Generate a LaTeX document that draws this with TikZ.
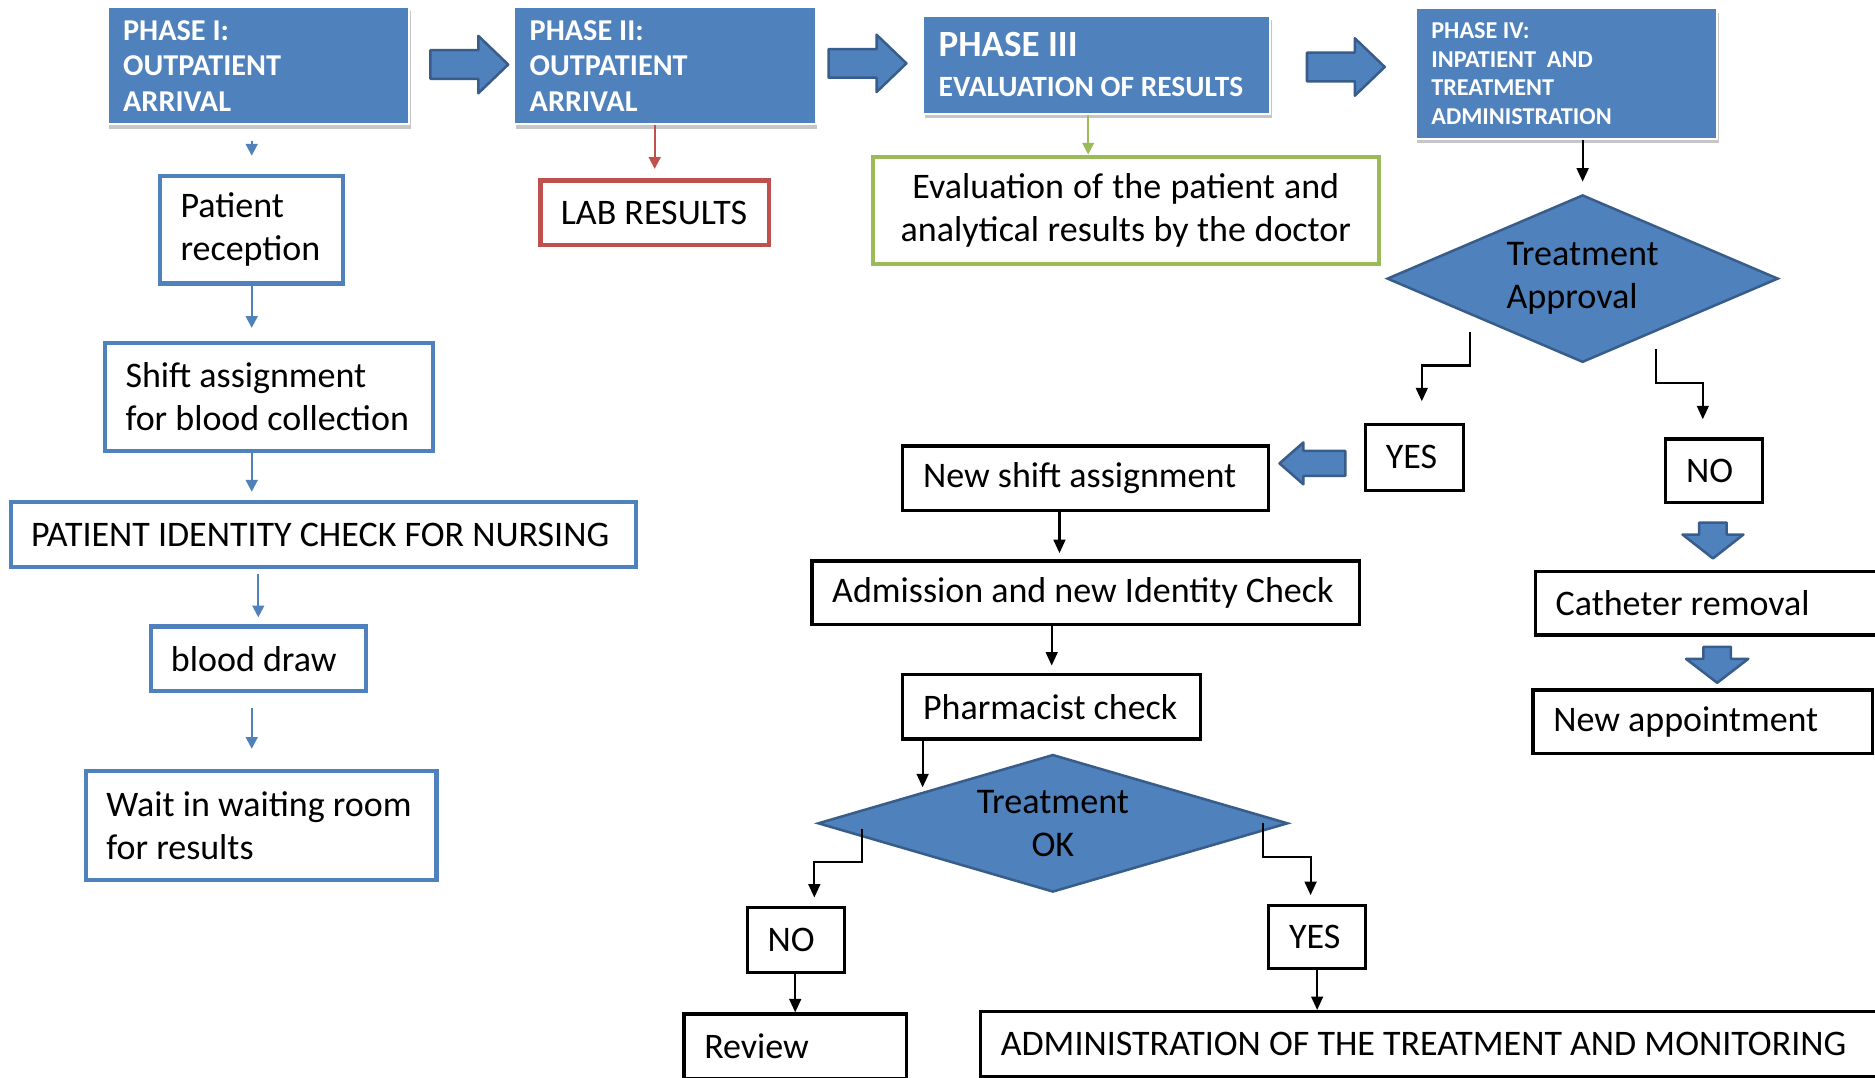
\documentclass[tikz,border=0pt]{standalone}
\usepackage{fontspec}
\setmainfont{Carlito}
\usetikzlibrary{arrows.meta,calc,shapes.geometric,shadows}
\definecolor{phblue}{RGB}{79,129,189}
\definecolor{phdark}{RGB}{56,93,138}
\definecolor{labred}{RGB}{192,80,77}
\definecolor{evgreen}{RGB}{155,187,89}
\newcommand{\bodyfont}{\fontsize{21.4}{25.6}\selectfont}
\tikzset{
  every node/.append style={execute at begin node={\spaceskip=0pt\xspaceskip=0pt\relax}},
  phase/.style={fill=phblue,draw=white,line width=1.2pt,text=white,align=left,
    inner sep=0pt,font=\fontsize{18}{21.2}\selectfont\bfseries,
    drop shadow={shadow xshift=1pt,shadow yshift=-2.5pt,opacity=.45}},
  blk/.style={draw=black,line width=2pt,align=left,inner sep=0pt,font=\bodyfont},
  bbox/.style={draw=phblue,line width=2.5pt,align=left,inner sep=0pt,font=\bodyfont},
  dec/.style={diamond,fill=phblue,draw=phdark,line width=1.5pt,inner sep=0pt,
    font=\fontsize{21.5}{25.6}\selectfont},
  barrow/.style={fill=phblue,draw=phdark,line width=1.5pt,line join=round},
}

\begin{document}
\begin{tikzpicture}[x=0.025cm,y=-0.025cm,
  bar/.style={phblue,line width=1.3pt,-{Triangle[length=7pt,width=7pt]}},
  rar/.style={labred,line width=1.3pt,-{Triangle[length=7pt,width=7pt]}},
  gar/.style={evgreen,line width=1.3pt,-{Triangle[length=7pt,width=7pt]}},
  kar/.style={black,line width=1.3pt,-{Triangle[length=8pt,width=7pt]}}]
  \useasboundingbox (0,0) rectangle (1568,901);
  \clip (0,0) rectangle (1568,901);
  % phase headers
  \node[phase,minimum width=6.3cm,minimum height=2.45cm,text width=5.65cm] (ph1) at (216,55)
    {PHASE I:\\OUTPATIENT\\ARRIVAL};
  \node[phase,minimum width=6.3cm,minimum height=2.45cm,text width=5.65cm] (ph2) at (556,55)
    {PHASE II:\\OUTPATIENT\\ARRIVAL};
  \node[phase,minimum width=7.25cm,minimum height=2.05cm,text width=6.6cm,
    font=\fontsize{22}{24}\selectfont\bfseries] (ph3) at (917,54)
    {PHASE III\\{\fontsize{17.5}{24}\selectfont EVALUATION OF RESULTS}};
  \node[phase,minimum width=6.3cm,minimum height=2.725cm,text width=5.65cm,
    font=\fontsize{14.4}{16.9}\selectfont\bfseries] (ph4) at (1310,61.5)
    {PHASE IV:\\INPATIENT \ AND\\TREATMENT\\ADMINISTRATION};
  % block arrows between phases
  \filldraw[barrow] (360,42) -- (400,42) -- (400,30) -- (425,54) -- (400,78) -- (400,66) -- (360,66) -- cycle;
  \filldraw[barrow] (693,41) -- (733,41) -- (733,29) -- (758,53) -- (733,77) -- (733,65) -- (693,65) -- cycle;
  \filldraw[barrow] (1093,44) -- (1133,44) -- (1133,32) -- (1158,56) -- (1133,80) -- (1133,68) -- (1093,68) -- cycle;
  % phase I column
  \node[bbox,minimum width=3.825cm,minimum height=2.25cm,text width=2.975cm] (rec) at (210.5,192) {Patient\\reception};
  \node[bbox,minimum width=6.85cm,minimum height=2.25cm,text width=6.0cm] (shf) at (225,332) {Shift assignment\\for blood collection};
  \node[bbox,minimum width=13.075cm,minimum height=1.35cm,text width=12.225cm] (idc) at (270.5,447) {PATIENT IDENTITY CHECK FOR NURSING};
  \node[bbox,minimum width=4.5cm,minimum height=1.35cm,text width=3.65cm] (bld) at (216,551) {blood draw};
  \node[bbox,minimum width=7.325cm,minimum height=2.275cm,text width=6.475cm] (wai) at (218.5,690.5) {Wait in waiting room\\for results};
  % phase II and III
  \node[blk,draw=labred,line width=2.5pt,minimum width=4.775cm,minimum height=1.35cm,text width=3.925cm] (lab) at (547.5,178) {LAB RESULTS};
  \node[blk,draw=evgreen,line width=2.5pt,align=center,minimum width=10.575cm,minimum height=2.25cm,text width=9.725cm] (ev) at (941.5,176)
    {Evaluation of the patient and\\analytical results by the doctor};
  % phase IV
  \node[dec,shape aspect=2.34,minimum width=8.175cm,minimum height=3.5cm,align=left] (apr) at (1323.5,233) {Treatment\\Approval};
  \node[blk,minimum width=2.05cm,minimum height=1.375cm,text width=1.2cm] (yes1) at (1183,382.5) {YES};
  \node[blk,minimum width=2.025cm,minimum height=1.325cm,text width=1.175cm] (no1) at (1433.5,393.5) {NO};
  \filldraw[barrow] (1125,377) -- (1090,377) -- (1090,370) -- (1070,387.5) -- (1090,405) -- (1090,398) -- (1125,398) -- cycle;
  \node[blk,minimum width=7.65cm,minimum height=1.35cm,text width=6.8cm] (nsa) at (908,400) {New shift assignment};
  \node[blk,minimum width=11.45cm,minimum height=1.325cm,text width=10.6cm] (adm) at (908,495.5) {Admission and new Identity Check};
  \node[blk,minimum width=6.225cm,minimum height=1.35cm,text width=5.375cm] (phc) at (879.5,591) {Pharmacist check};
  \node[dec,shape aspect=3.42,minimum width=9.825cm,minimum height=2.875cm,align=center] (tok) at (880.5,688.5) {Treatment\\OK};
  \node[blk,minimum width=2.025cm,minimum height=1.35cm,text width=1.175cm] (no2) at (665.5,786) {NO};
  \node[blk,minimum width=2.025cm,minimum height=1.325cm,text width=1.175cm] (yes2) at (1101.5,783.5) {YES};
  \node[blk,minimum width=4.65cm,minimum height=1.35cm,text width=3.8cm] (rev) at (665,875) {Review};
  \node[blk,minimum width=18.875cm,minimum height=1.35cm,text width=18.025cm] (adm2) at (1197.5,873)
    {ADMINISTRATION OF THE TREATMENT AND MONITORING};
  \filldraw[barrow] (1421,437) -- (1444,437) -- (1444,447) -- (1458,447) -- (1432.5,467) -- (1407,447) -- (1421,447) -- cycle;
  \node[blk,minimum width=7.9cm,minimum height=1.325cm,text width=7.05cm] (cat) at (1442,504.5) {Catheter removal};
  \filldraw[barrow] (1424.5,541) -- (1447.5,541) -- (1447.5,551) -- (1462,551) -- (1436,571) -- (1410,551) -- (1424.5,551) -- cycle;
  \node[blk,minimum width=7.1cm,minimum height=1.325cm,text width=6.25cm] (app) at (1424,603.5) {New appointment};
  % branch starts
  \coordinate (aprY) at (1229,278);
  \coordinate (aprN) at (1385,292);
  \coordinate (tokN) at (721,693);
  \coordinate (tokY) at (1056,688);
  % connectors
  \draw[bar,shorten <=0.325cm,shorten >=0.375cm] (ph1.south -| rec.north) -- (rec.north);
  \draw[bar,shorten >=0.275cm] (rec.south) -- (rec.south |- shf.north);
  \draw[bar,shorten >=0.175cm] (shf.south -| rec) -- (idc.north -| rec);
  \draw[bar,shorten <=0.1cm,shorten >=0.15cm] (idc.south -| bld) -- (bld.north);
  \draw[bar,shorten <=0.3cm,shorten >=0.425cm] (bld.south -| rec) -- (wai.north -| rec);
  \draw[rar,shorten >=0.2cm] (ph2.south -| lab.north) -- (lab.north);
  \draw[gar] ($(ph3.south)+(-7,0)$) -- ($(ph3.south |- ev.north)+(-7,0)$);
  \draw[kar,shorten >=0.25cm] (ph4.south -| apr.north) -- (apr.north);
  \draw[kar] (aprY) |- ($(yes1.north)+(6,-48)$) -- ($(yes1.north)+(6,-18)$);
  \draw[kar] (aprN) |- ($(no1.north)+(-9.5,-45)$) -- ($(no1.north)+(-9.5,-15)$);
  \draw[kar,shorten >=0.125cm] ($(nsa.south)+(-22,0)$) -- ($(adm.north)+(-22,0)$);
  \draw[kar,shorten >=0.15cm] (adm.south -| phc.north) -- (phc.north);
  \draw[kar] ($(phc.south west)+(18,0)$) -- ($(phc.south west)+(18,39)$);
  \draw[kar] (tokN) |- ($(no2.north)+(15.5,-37)$) -- ($(no2.north)+(15.5,-7)$);
  \draw[kar] (tokY) |- ($(yes2.north)+(-5.5,-39)$) -- ($(yes2.north)+(-5.5,-7)$);
  \draw[kar] (no2.south -| rev.north) -- (rev.north);
  \draw[kar] (yes2.south) -- (yes2.south |- adm2.north);
\end{tikzpicture}
\end{document}
